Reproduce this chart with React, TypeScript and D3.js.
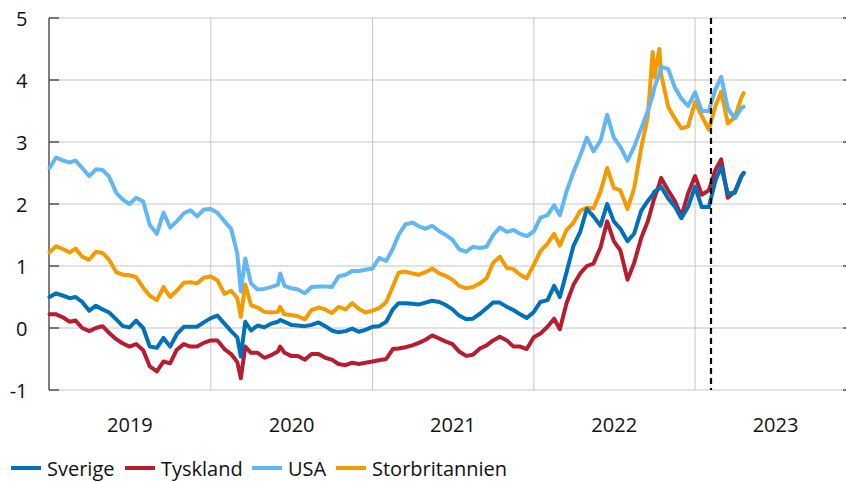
import React from "react";
import * as d3 from "d3";

const dates = [
  "2019-01-01","2019-01-16","2019-02-01","2019-02-16","2019-03-01","2019-03-16","2019-04-01","2019-04-16",
  "2019-05-01","2019-05-16","2019-06-01","2019-06-16","2019-07-01","2019-07-16","2019-08-01","2019-08-16",
  "2019-09-01","2019-09-16","2019-10-01","2019-10-16","2019-11-01","2019-11-16","2019-12-01","2019-12-16",
  "2020-01-01","2020-01-16","2020-02-01","2020-02-16","2020-03-01","2020-03-09","2020-03-19","2020-04-01",
  "2020-04-16","2020-05-01","2020-05-16","2020-06-01","2020-06-06","2020-06-16","2020-07-01","2020-07-16",
  "2020-08-01","2020-08-16","2020-09-01","2020-09-16","2020-10-01","2020-10-16","2020-11-01","2020-11-16",
  "2020-12-01","2020-12-16",
  "2021-01-01","2021-01-16","2021-02-01","2021-02-16","2021-03-01","2021-03-16","2021-04-01","2021-04-16",
  "2021-05-01","2021-05-16","2021-06-01","2021-06-16","2021-07-01","2021-07-16","2021-08-01","2021-08-16",
  "2021-09-01","2021-09-16","2021-10-01","2021-10-16","2021-11-01","2021-11-16","2021-12-01","2021-12-16",
  "2022-01-01","2022-01-16","2022-02-01","2022-02-16","2022-03-01","2022-03-16","2022-04-01","2022-04-16",
  "2022-05-01","2022-05-16","2022-06-01","2022-06-16","2022-07-01","2022-07-16","2022-08-01","2022-08-16",
  "2022-09-01","2022-09-16","2022-09-27","2022-10-01","2022-10-12","2022-10-16","2022-11-01","2022-11-16",
  "2022-12-01","2022-12-16",
  "2023-01-01","2023-01-16","2023-02-01","2023-02-16","2023-03-01","2023-03-16","2023-04-01","2023-04-16",
  "2023-04-21",
];

const sverige = [
  0.50, 0.56, 0.52, 0.48, 0.50, 0.42, 0.28, 0.36, 0.30, 0.25, 0.14, 0.03, 0.01, 0.12, 0.00, -0.30, -0.32, -0.16, -0.30, -0.10, 0.02, 0.02, 0.02, 0.09,
  0.16, 0.20, 0.07, -0.05, -0.15, -0.46, 0.10, -0.04, 0.04, 0.01, 0.07, 0.10, 0.13, 0.10, 0.05, 0.04, 0.03, 0.05, 0.09, 0.03, -0.04, -0.07, -0.05, -0.01, -0.06, -0.03,
  0.02, 0.03, 0.10, 0.30, 0.40, 0.40, 0.39, 0.38, 0.41, 0.44, 0.42, 0.37, 0.30, 0.20, 0.14, 0.15, 0.23, 0.32, 0.41, 0.41, 0.34, 0.29, 0.22, 0.16,
  0.26, 0.42, 0.45, 0.68, 0.50, 0.90, 1.33, 1.55, 1.92, 1.80, 1.65, 2.00, 1.72, 1.60, 1.40, 1.52, 1.89, 2.05, 2.15, 2.20, 2.25, 2.28, 2.09, 1.96, 1.77, 1.95,
  2.28, 1.95, 1.95, 2.38, 2.60, 2.17, 2.18, 2.45, 2.50,
];

const tyskland = [
  0.22, 0.22, 0.17, 0.10, 0.12, 0.00, -0.05, 0.00, 0.03, -0.08, -0.18, -0.25, -0.30, -0.26, -0.36, -0.62, -0.70, -0.54, -0.57, -0.35, -0.26, -0.30, -0.30, -0.24,
  -0.20, -0.20, -0.34, -0.42, -0.55, -0.81, -0.30, -0.40, -0.40, -0.48, -0.44, -0.38, -0.30, -0.40, -0.45, -0.45, -0.51, -0.42, -0.42, -0.48, -0.51, -0.58, -0.60, -0.56, -0.58, -0.56,
  -0.54, -0.52, -0.50, -0.34, -0.33, -0.31, -0.28, -0.24, -0.19, -0.12, -0.17, -0.22, -0.26, -0.38, -0.45, -0.43, -0.33, -0.28, -0.20, -0.14, -0.20, -0.30, -0.30, -0.34,
  -0.15, -0.09, 0.02, 0.15, -0.02, 0.40, 0.70, 0.88, 1.00, 1.04, 1.30, 1.72, 1.40, 1.25, 0.78, 1.05, 1.45, 1.72, 2.00, 2.10, 2.32, 2.42, 2.22, 2.05, 1.80, 2.17,
  2.45, 2.15, 2.22, 2.55, 2.72, 2.10, 2.20, 2.45, 2.50,
];

const usa = [
  2.58, 2.75, 2.70, 2.67, 2.70, 2.58, 2.45, 2.56, 2.55, 2.44, 2.18, 2.07, 2.00, 2.10, 2.04, 1.66, 1.52, 1.86, 1.62, 1.72, 1.85, 1.90, 1.80, 1.91,
  1.92, 1.86, 1.72, 1.60, 1.20, 0.59, 1.12, 0.72, 0.62, 0.63, 0.66, 0.70, 0.88, 0.68, 0.64, 0.62, 0.56, 0.66, 0.67, 0.67, 0.66, 0.83, 0.86, 0.92, 0.92, 0.94,
  0.96, 1.13, 1.08, 1.28, 1.50, 1.67, 1.70, 1.64, 1.60, 1.65, 1.56, 1.50, 1.42, 1.27, 1.23, 1.31, 1.29, 1.31, 1.50, 1.62, 1.55, 1.58, 1.52, 1.48,
  1.56, 1.78, 1.82, 1.98, 1.82, 2.20, 2.52, 2.78, 3.07, 2.85, 3.02, 3.44, 3.07, 2.92, 2.70, 2.92, 3.22, 3.50, 3.75, 3.88, 4.10, 4.21, 4.18, 3.88, 3.70, 3.58,
  3.80, 3.50, 3.50, 3.85, 4.05, 3.54, 3.38, 3.55, 3.57,
];

const storbritannien = [
  1.22, 1.32, 1.27, 1.22, 1.28, 1.15, 1.10, 1.23, 1.21, 1.10, 0.90, 0.86, 0.85, 0.82, 0.65, 0.52, 0.45, 0.66, 0.50, 0.60, 0.73, 0.74, 0.72, 0.81,
  0.83, 0.77, 0.55, 0.60, 0.48, 0.18, 0.70, 0.37, 0.33, 0.26, 0.25, 0.26, 0.34, 0.22, 0.21, 0.19, 0.14, 0.29, 0.33, 0.30, 0.24, 0.34, 0.30, 0.40, 0.31, 0.25,
  0.28, 0.32, 0.42, 0.67, 0.89, 0.91, 0.88, 0.86, 0.90, 0.96, 0.88, 0.84, 0.78, 0.68, 0.64, 0.66, 0.72, 0.80, 1.05, 1.15, 0.97, 0.95, 0.86, 0.80,
  1.02, 1.24, 1.36, 1.52, 1.33, 1.58, 1.70, 1.89, 1.94, 1.93, 2.20, 2.58, 2.26, 2.22, 1.92, 2.25, 2.90, 3.41, 4.45, 4.05, 4.50, 4.10, 3.57, 3.38, 3.22, 3.25,
  3.65, 3.42, 3.20, 3.58, 3.81, 3.30, 3.40, 3.72, 3.79,
];

const yTicks = [-1, 0, 1, 2, 3, 4, 5];
const yearLabels = ["2019", "2020", "2021", "2022", "2023"];
const yearLines = ["2020", "2021", "2022", "2023"];
const markerDate = "2023-02-06";

const seriesNames = ["Sverige", "Tyskland", "USA", "Storbritannien"];
const seriesColors = ["#0070b9", "#b61d2f", "#62b6f1", "#f39b00"];
const seriesData = [sverige, tyskland, usa, storbritannien];

const FONT = "'Open Sans', sans-serif";
const left = 49;
const right = 845;
const top = 18;
const bottom = 390;

export default function App() {
  const parse = d3.utcParse("%Y-%m-%d");
  const x = d3
    .scaleUtc()
    .domain([parse("2019-01-01")!, parse("2023-01-01")!])
    .range([49.5, 695.1]);
  const y = d3.scaleLinear().domain([-1, 5]).range([bottom, top]);
  const parsedDates = dates.map((d) => parse(d)!);

  const line = d3
    .line<number>()
    .x((_, i) => x(parsedDates[i]))
    .y((v) => y(v));

  const legendX = [11, 125, 252, 336];
  const drawOrder = [3, 2, 1, 0];

  return (
    <svg
      width={846}
      height={482}
      style={{ position: "absolute", left: 0, top: 0, background: "#fff" }}
      fontFamily={FONT}
    >
      {yTicks.map((t) => (
        <line key={"h" + t} x1={left} x2={right} y1={y(t)} y2={y(t)} stroke="#d9d9d9" strokeWidth={1.5} />
      ))}
      {yearLines.map((yr) => {
        const xx = x(parse(yr + "-01-01")!);
        return <line key={"v" + yr} x1={xx} x2={xx} y1={top} y2={bottom} stroke="#c8c8c8" strokeWidth={1} />;
      })}
      <line x1={left} x2={left} y1={top} y2={bottom} stroke="#3a3a3a" strokeWidth={1.3} />
      {yTicks.map((t) => (
        <g key={"t" + t}>
          <line x1={left} x2={left + 10} y1={y(t)} y2={y(t)} stroke="#555" strokeWidth={1.5} />
          <line x1={right - 2} x2={right + 1} y1={y(t)} y2={y(t)} stroke="#555" strokeWidth={1.5} />
          <text x={27.5} y={y(t) + 8} textAnchor="end" fontSize={20} fill="#111">
            {t}
          </text>
        </g>
      ))}
      {yearLabels.map((yr) => (
        <text key={"yl" + yr} x={x(parse(yr + "-07-02")!)} y={432} textAnchor="middle" fontSize={20} fill="#111">
          {yr}
        </text>
      ))}
      {drawOrder.map((k) => (
        <path
          key={seriesNames[k]}
          d={line(seriesData[k]) || ""}
          fill="none"
          stroke={seriesColors[k]}
          strokeWidth={4}
          strokeLinejoin="round"
          strokeLinecap="round"
        />
      ))}
      <line
        x1={x(parse(markerDate)!)}
        x2={x(parse(markerDate)!)}
        y1={top}
        y2={bottom}
        stroke="#000"
        strokeWidth={2.2}
        strokeDasharray="6,4"
      />
      {seriesNames.map((n, i) => (
        <g key={"lg" + n}>
          <line x1={legendX[i]} x2={legendX[i] + 30} y1={468} y2={468} stroke={seriesColors[i]} strokeWidth={4} />
          <text x={legendX[i] + 36} y={475.5} fontSize={20} fill="#111">
            {n}
          </text>
        </g>
      ))}
    </svg>
  );
}
